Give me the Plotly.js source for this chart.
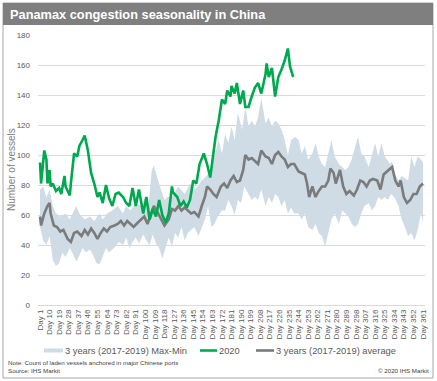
<!DOCTYPE html>
<html><head><meta charset="utf-8">
<script src="https://cdn.plot.ly/plotly-3.0.1.min.js"></script>
<style>html,body{margin:0;padding:0;background:#fff}</style>
</head><body>
<div id="chart" style="width:437px;height:381px"></div>
<script>
// ---- data ----
const tickDays = [1,10,19,28,37,46,55,64,73,82,91,100,109,118,127,136,145,154,163,172,181,190,199,208,217,226,235,244,253,262,271,280,289,298,307,316,325,334,343,352,361];
const tickLabels = tickDays.map(d => 'Day ' + d);

const green2020Days = [1,2,5,7,8,10,11,13,16,19,21,24,25,29,30,33,36,38,41,43,46,49,52,55,57,60,63,66,69,72,75,79,82,85,88,91,94,98,101,104,107,110,113,116,119,122,125,126,130,133,136,139,142,145,148,151,155,158,161,164,166,169,172,175,177,180,181,184,186,189,192,194,197,200,203,206,209,213,214,216,219,222,225,228,231,234,236,239];
const green2020Vals = [95,81,103,97,81,90,79,81,76,78,74,86,79,73,81,101,99,106,110,113,103,88,81,72,75,68,80,71,66,74,75,72,68,66,78,66,77,61,72,57,64,59,70,60,55,61,79,75,72,66,69,65,70,83,81,94,101,94,85,103,112,123,137,134,143,139,146,141,148,134,143,132,132,139,145,148,141,154,161,152,158,139,152,157,163,171,159,152];

const avgDays = [1,2,5,8,10,11,14,17,20,23,27,30,33,36,40,43,46,49,52,55,58,61,64,67,71,74,77,80,83,86,89,93,96,99,102,105,108,112,115,118,122,125,128,131,134,137,140,143,146,150,153,156,158,161,164,167,171,174,177,180,183,186,189,192,194,197,200,203,206,209,213,216,219,222,225,228,231,234,237,240,244,247,250,252,254,257,260,263,266,269,272,274,277,279,281,283,286,289,292,296,299,302,305,308,311,314,318,321,324,327,330,332,335,338,340,343,346,349,352,355,358,361];
const avgVals = [59,53,61,66,68,61,53,52,49,50,44,42,48,49,46,50,47,51,48,44,48,51,49,52,53,54,56,53,56,54,52,55,57,59,54,60,66,61,57,53,57,64,63,66,63,65,63,61,62,59,66,72,79,77,74,72,79,81,78,83,86,82,83,90,100,97,98,96,94,103,99,98,94,100,102,99,97,92,94,94,89,88,87,81,72,79,72,76,79,79,83,91,88,81,85,90,79,74,76,73,77,83,82,79,83,84,83,77,87,89,91,92,83,79,83,72,68,70,74,74,79,81];

const maxDays = [1,4,7,10,13,16,20,25,29,32,35,38,43,48,52,57,60,64,69,74,79,82,86,91,96,100,103,106,108,112,115,118,121,125,131,137,142,147,153,160,164,169,172,175,178,181,184,187,191,194,197,200,203,206,209,213,216,219,222,225,228,231,234,237,241,244,247,250,253,257,260,263,266,269,272,275,278,282,285,288,291,294,299,300,303,306,310,316,319,322,325,330,332,334,338,341,347,350,353,356,359,361];
const maxVals = [77,79,72,77,66,61,59,61,57,61,66,61,57,59,56,61,57,61,63,66,61,66,63,68,66,72,66,90,93,83,77,70,72,72,79,74,81,77,83,88,97,110,101,114,108,119,110,128,117,132,119,123,119,125,138,121,125,119,123,121,117,110,100,110,112,110,101,106,97,101,108,99,94,92,101,110,99,94,92,90,92,97,110,112,101,99,92,108,99,108,99,94,96,88,83,86,83,99,92,99,97,95];

const minDays = [1,4,7,10,13,16,19,22,25,29,32,35,38,41,44,48,51,54,57,60,63,66,69,72,75,79,82,85,88,91,94,98,101,104,107,110,113,116,119,122,125,128,131,134,137,140,143,146,150,153,156,159,162,165,168,172,175,178,181,184,187,190,193,197,200,203,206,209,213,216,219,222,225,228,231,234,237,240,244,247,250,253,257,260,263,266,269,272,275,278,282,285,288,291,294,297,300,303,306,310,313,316,319,322,325,328,331,334,338,341,344,347,350,353,356,359,361];
const minVals = [52,43,40,46,30,26,28,35,32,38,34,29,33,38,35,37,33,28,27,33,38,35,37,39,42,40,45,38,42,45,41,47,43,40,47,41,38,31,38,45,39,48,45,52,43,48,50,52,46,52,57,66,52,54,59,63,63,70,66,60,70,68,79,74,70,72,70,77,66,72,68,74,72,66,70,61,65,61,61,57,61,52,50,54,48,46,39,48,57,61,54,63,61,59,54,52,54,61,66,68,63,66,72,70,72,70,74,72,66,57,52,46,48,43,50,61,55];

const seriesNames = ['3 years (2017-2019) Max-Min', '2020', '3 years (2017-2019) average'];

// ---- styling / layout helpers ----
const BAND = '#cfdce6', GREEN = '#00a94f', GREY = '#7b7b7b', TXT = '#595959';
const L = 38, R = 425, T = 35, B = 305;
const px = x => (x - L) / (R - L);
const py = y => (B - y) / (B - T);

const traces = [
  {x: minDays, y: minVals, type: 'scatter', mode: 'lines', line: {width: 0, color: BAND}, showlegend: false, hoverinfo: 'skip'},
  {x: maxDays, y: maxVals, type: 'scatter', mode: 'lines', fill: 'tonexty', fillcolor: BAND, line: {width: 0, color: BAND}, showlegend: false, name: seriesNames[0]},
  {x: avgDays, y: avgVals, type: 'scatter', mode: 'lines', line: {width: 2.6, color: GREY}, showlegend: false, name: seriesNames[2]},
  {x: green2020Days, y: green2020Vals, type: 'scatter', mode: 'lines', line: {width: 2.6, color: GREEN}, showlegend: false, name: seriesNames[1]}
];

const legY = py(350.5);
const shapes = [
  {type: 'rect', xref: 'paper', yref: 'paper', x0: px(3), x1: px(433), y0: py(378), y1: py(3), line: {color: '#a6a6a6', width: 1}, fillcolor: 'rgba(0,0,0,0)', layer: 'below'},
  {type: 'rect', xref: 'paper', yref: 'paper', x0: px(3), x1: px(433), y0: py(25), y1: py(3), line: {width: 0}, fillcolor: '#7f7f7f'},
  {type: 'line', xref: 'paper', yref: 'paper', x0: px(44), x1: px(63), y0: legY, y1: legY, line: {color: BAND, width: 4}},
  {type: 'line', xref: 'paper', yref: 'paper', x0: px(200), x1: px(217), y0: legY, y1: legY, line: {color: GREEN, width: 2.6}},
  {type: 'line', xref: 'paper', yref: 'paper', x0: px(256), x1: px(274), y0: legY, y1: legY, line: {color: GREY, width: 2.6}}
];

const ann = (text, x, y, opts) => Object.assign({text, xref: 'paper', yref: 'paper', x: px(x), y: py(y), showarrow: false, xanchor: 'left', yanchor: 'middle', borderpad: 0}, opts || {});
const annotations = [
  ann('<b>Panamax congestion seasonality in China</b>', 9, 14.5, {font: {size: 12.8, color: '#ffffff', family: 'Liberation Sans, Arial, sans-serif'}}),
  ann('Number of vessels', 11, 170, {xanchor: 'center', textangle: -90, font: {size: 10, color: '#7f7f7f'}}),
  ann(seriesNames[0], 64, 350.5, {font: {size: 9.3, color: TXT}}),
  ann(seriesNames[1], 218, 350.5, {font: {size: 9.3, color: TXT}}),
  ann(seriesNames[2], 275, 350.5, {font: {size: 9.3, color: TXT}}),
  ann('Note: Count of laden vessels anchored in major Chinese ports', 7, 362, {font: {size: 6.2, color: '#404040'}}),
  ann('Source: IHS Markit', 7, 370, {font: {size: 6.2, color: '#404040'}}),
  ann('\u00a9 2020 IHS Markit', 430, 370, {xanchor: 'right', font: {size: 6.2, color: '#404040'}})
];

const layout = {
  width: 437, height: 381,
  margin: {l: L, r: 437 - R, t: T, b: 381 - B, pad: 0},
  paper_bgcolor: '#ffffff', plot_bgcolor: '#ffffff',
  font: {family: 'Liberation Sans, Arial, sans-serif', color: TXT},
  showlegend: false,
  xaxis: {
    type: 'linear', range: [-0.9, 362.9], tickmode: 'array', tickvals: tickDays, ticktext: tickLabels,
    tickangle: -90, tickfont: {size: 8, color: TXT}, showgrid: false, zeroline: false, showline: false, ticks: '',
    ticklabelstandoff: 2, fixedrange: true
  },
  yaxis: {
    range: [0, 180], tick0: 0, dtick: 20, gridcolor: '#d9d9d9', gridwidth: 1, zeroline: true, zerolinecolor: '#d9d9d9', zerolinewidth: 1,
    showline: false, ticks: '', tickfont: {size: 8, color: TXT}, ticklabelstandoff: 7, fixedrange: true
  },
  shapes, annotations
};

Plotly.newPlot('chart', traces, layout, {staticPlot: true, displayModeBar: false});
</script>
</body></html>
